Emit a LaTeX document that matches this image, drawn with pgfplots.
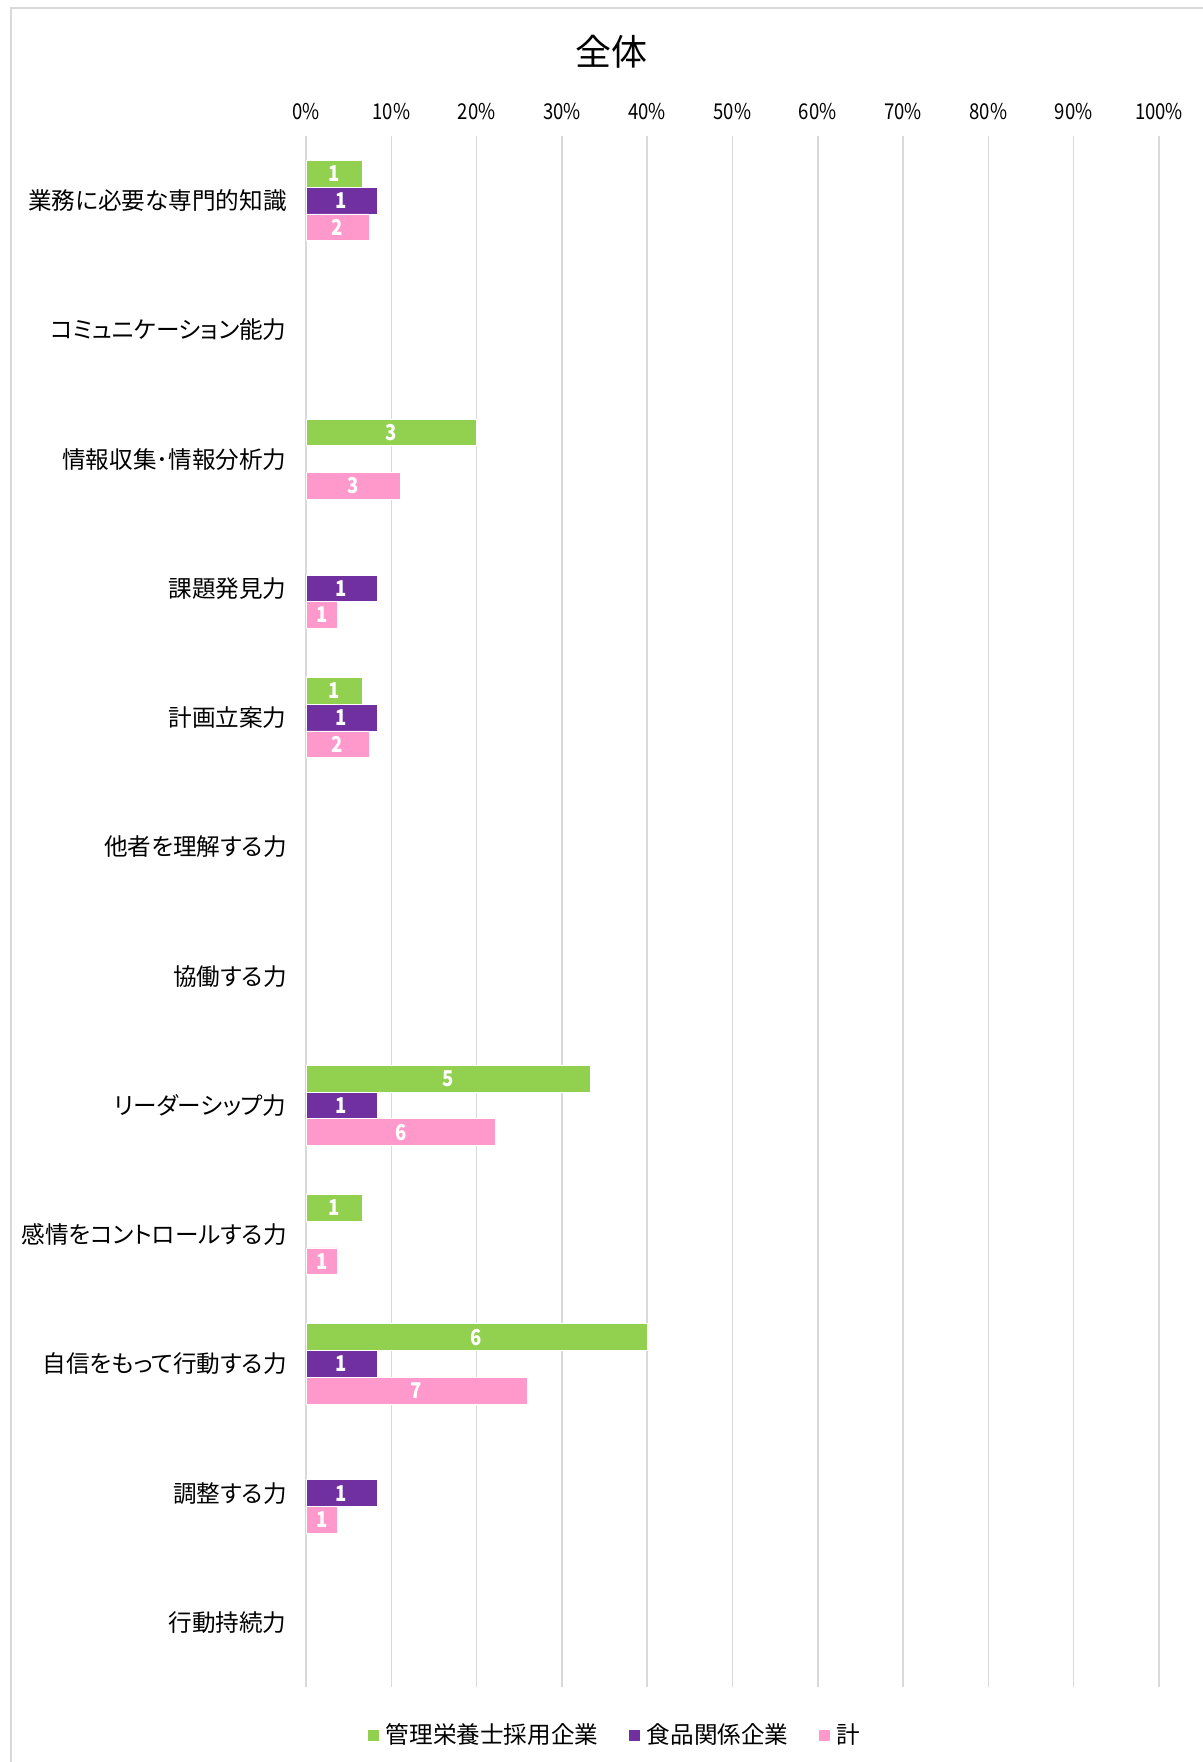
\documentclass[border=0pt]{standalone}
\usepackage{fontspec}
\setmainfont{Noto Sans CJK JP}[RawFeature=+palt]
\newfontfamily\numfont[FakeStretch=0.85]{Noto Sans CJK JP}
\usepackage{pgfplots}
\pgfplotsset{compat=1.18}
\definecolor{cG}{HTML}{92D050}
\definecolor{cP}{HTML}{7030A0}
\definecolor{cK}{HTML}{FF99CC}
\definecolor{gridc}{HTML}{D9D9D9}
\begin{document}
\begin{tikzpicture}
\useasboundingbox (0,0) rectangle (601.5pt,881pt);
\draw[color=gridc, line width=1pt] (5.5pt,-5pt) -- (5.5pt,877pt) -- (610pt,877pt);
\node[font=\fontsize{18}{20}\selectfont] at (305.5pt,855pt) {全体};
\begin{axis}[
  at={(153pt,37.5pt)}, anchor=south west,
  scale only axis, width=426.5pt, height=775.5pt,
  xbar=0pt, bar width=13.35pt,
  xmin=0, xmax=100, ymin=0.5, ymax=12.5, y dir=reverse,
  xtick={0,10,...,100},
  xticklabels={0\%,10\%,20\%,30\%,40\%,50\%,60\%,70\%,80\%,90\%,100\%},
  xticklabel pos=right,
  xmajorgrids, major grid style={color=gridc, line width=0.75pt},
  ytick={1,...,12},
  yticklabels={業務に必要な専門的知識,コミュニケーション能力,情報収集･情報分析力,課題発見力,計画立案力,他者を理解する力,協働する力,リーダーシップ力,感情をコントロールする力,自信をもって行動する力,調整する力,行動持続力},
  axis line style={draw=none}, major tick length=0pt,
  xticklabel style={font=\numfont\fontsize{10.9}{12}\selectfont, inner sep=0pt, anchor=south, yshift=8pt},
  yticklabel style={font=\fontsize{11.8}{13}\selectfont, inner sep=0pt, anchor=east, xshift=-9.5pt},
  visualization depends on={rawx \as \rx},
  nodes near coords, point meta=explicit symbolic,
  every node near coord/.append style={font=\numfont\bfseries\fontsize{10.9}{12}\selectfont, text=white, anchor=center, xshift={-0.5*\rx*4.265pt}},
  legend image code/.code={\draw[#1,draw=none] (0pt,-2.75pt) rectangle (5.25pt,2.75pt);},
  legend style={at={(axis description cs:0.5,0)}, anchor=center, xshift=-59pt, yshift=-24pt,
    draw=none, fill=none, legend columns=3, font=\fontsize{11.8}{13}\selectfont,
    inner sep=0pt, nodes={inner sep=0pt},
    /tikz/every even column/.append style={column sep=15.5pt},
    /tikz/every odd column/.append style={column sep=3.5pt}},
]
\addplot[fill=cG, draw=white, line width=0.4pt, bar shift=13.35pt] coordinates {
  (6.667,1) [1] (20,3) [3] (6.667,5) [1] (33.333,8) [5] (6.667,9) [1] (40,10) [6]};
\addplot[fill=cP, draw=white, line width=0.4pt, bar shift=0pt] coordinates {
  (8.333,1) [1] (8.333,4) [1] (8.333,5) [1] (8.333,8) [1] (8.333,10) [1] (8.333,11) [1]};
\addplot[fill=cK, draw=white, line width=0.4pt, bar shift=-13.35pt] coordinates {
  (7.407,1) [2] (11.111,3) [3] (3.704,4) [1] (7.407,5) [2] (22.222,8) [6] (3.704,9) [1] (25.926,10) [7] (3.704,11) [1]};
\legend{管理栄養士採用企業,食品関係企業,計}
\end{axis}
\end{tikzpicture}
\end{document}
